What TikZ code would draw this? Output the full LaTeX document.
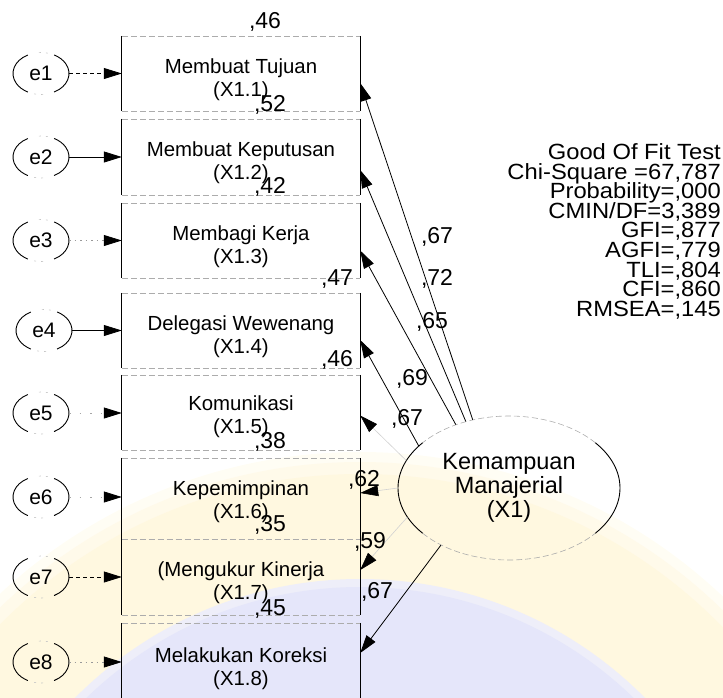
\documentclass[tikz,border=0pt]{standalone}
\usepackage{fontspec}
\setmainfont{Liberation Sans}
\newfontfamily\fitfont[FakeStretch=1.08]{Liberation Sans}
\usetikzlibrary{shapes.geometric,arrows.meta,calc}

% watermark tints
\definecolor{wmyellow}{RGB}{255,248,224}
\definecolor{wmyellowB}{RGB}{255,250,234}
\definecolor{wmyellowC}{RGB}{255,253,244}
\definecolor{wmblue}{RGB}{229,230,250}
\definecolor{wmblueB}{RGB}{238,238,249}

\tikzset{
  indicator/.style={rectangle, minimum width=238pt, minimum height=#1, inner sep=0pt},
  boxtext/.style={align=center, inner sep=0pt, font=\fontsize{20.4}{23}\selectfont},
  errvar/.style={ellipse, minimum width=56pt, minimum height=42pt, inner sep=0pt,
                 font=\fontsize{21}{21}\selectfont},
  latent/.style={ellipse, minimum width=222pt, minimum height=144pt, inner sep=0pt,
                 align=center, font=\fontsize{23.5}{24}\selectfont},
  regarrow/.style={line width=0.8pt, -{Triangle[length=18pt,width=11pt]}},
  faintarrow/.style={line width=0.6pt, draw=gray!35, -{Triangle[length=18pt,width=11pt,black]}},
  solidline/.style={},
  dashline/.style={dash pattern=on 4pt off 3pt},
  dotline/.style={draw=gray!80, dash pattern=on 1.5pt off 4pt},
  sparseline/.style={draw=gray!70, dash pattern=on 1.5pt off 9pt},
  side/.style={line width=0.9pt},
  rim/.style={line width=0.6pt, draw=gray!65, dash pattern=on 6pt off 3pt},
  faintrim/.style={line width=0.6pt, draw=gray!45, dash pattern=on 2pt off 5pt},
  coef/.style={inner sep=0pt, font=\fontsize{23}{23}\selectfont},
  fitline/.style={inner sep=0pt, anchor=base east, font=\fitfont\fontsize{22}{22}\selectfont}
}

\begin{document}
\begin{tikzpicture}[x=1pt,y=1pt]
\useasboundingbox (0,0) rectangle (723,-697);
\clip (0,0) rectangle (723,-697);

% faint emblem in the background
\fill[wmyellowC] (360,-980) circle[radius=528];
\fill[wmyellowB] (360,-980) circle[radius=518];
\fill[wmyellow]  (360,-980) circle[radius=506];
\fill[wmblueB]   (360,-980) circle[radius=401];
\fill[wmblue]    (360,-980) circle[radius=393];

% observed indicators
\node[indicator=75pt] (b1) at (241,-73.5) {};
\node[indicator=76pt] (b2) at (241,-157)  {};
\node[indicator=75pt] (b3) at (241,-240.5) {};
\node[indicator=75pt] (b4) at (241,-330.5) {};
\node[indicator=75pt] (b5) at (241,-412.5) {};
\node[indicator=81pt] (b6) at (241,-498.5) {};
\node[indicator=76pt] (b7) at (241,-577)  {};
\node[indicator=80pt] (b8) at (241,-663)  {};

\foreach \b in {b1,b2,b3,b4,b5,b6,b7,b8}{
  \draw[side] (\b.north west) -- (\b.south west);
  \draw[side] (\b.north east) -- (\b.south east);
  \draw[rim]  (\b.north west) -- (\b.north east);
  \draw[rim]  (\b.south west) -- (\b.south east);
}

\node[boxtext] (t1) at ([yshift=-6pt]b1.center) {Membuat Tujuan\\(X1.1)};
\node[boxtext] (t2) at ([yshift=-6pt]b2.center) {Membuat Keputusan\\(X1.2)};
\node[boxtext] (t3) at ([yshift=-6pt]b3.center) {Membagi Kerja\\(X1.3)};
\node[boxtext] (t4) at ([yshift=-6pt]b4.center) {Delegasi Wewenang\\(X1.4)};
\node[boxtext] (t5) at ([yshift=-4pt]b5.center) {Komunikasi\\(X1.5)};
\node[boxtext] (t6) at ([yshift=-3pt]b6.center) {Kepemimpinan\\(X1.6)};
\node[boxtext] (t7) at ([yshift=-6pt]b7.center) {(Mengukur Kinerja\\(X1.7)};
\node[boxtext] (t8) at ([yshift=-6pt]b8.center) {Melakukan Koreksi\\(X1.8)};

% error terms
\node[errvar] (e1) at (41,-73.5)  {e1};
\node[errvar] (e2) at (41,-157)   {e2};
\node[errvar] (e3) at (41,-240.5) {e3};
\node[errvar] (e4) at (44,-330.5) {e4};
\node[errvar] (e5) at (41,-413)   {e5};
\node[errvar] (e6) at (41,-497)   {e6};
\node[errvar] (e7) at (41,-577)   {e7};
\node[errvar] (e8) at (41,-662)   {e8};

\foreach \e/\b/\ls in {e1/b1/dashline,e2/b2/solidline,e3/b3/dotline,e4/b4/solidline,
                       e5/b5/sparseline,e6/b6/sparseline,e7/b7/dashline,e8/b8/dotline}{
  \draw[side] ($(\e.center)+(118:28pt and 21pt)$)
      arc[start angle=118, end angle=242, x radius=28pt, y radius=21pt];
  \draw[side] ($(\e.center)+(-62:28pt and 21pt)$)
      arc[start angle=-62, end angle=62, x radius=28pt, y radius=21pt];
  \draw[faintrim] ($(\e.center)+(76:28pt and 21pt)$)
      arc[start angle=76, end angle=104, x radius=28pt, y radius=21pt];
  \draw[faintrim] ($(\e.center)+(256:28pt and 21pt)$)
      arc[start angle=256, end angle=284, x radius=28pt, y radius=21pt];
  \draw[line width=0.8pt, \ls, -{Triangle[length=18pt,width=11pt,black]}]
      (\e.east) -- (\e.east -| \b.west);
}

% latent construct
\node[latent] (lat) at (509,-488) {Kemampuan\\Manajerial\\(X1)};
\draw[side] ($(lat.center)+(141:111pt and 72pt)$)
    arc[start angle=141, end angle=219, x radius=111pt, y radius=72pt];
\draw[side] ($(lat.center)+(-39:111pt and 72pt)$)
    arc[start angle=-39, end angle=39, x radius=111pt, y radius=72pt];
\draw[rim] ($(lat.center)+(39:111pt and 72pt)$)
    arc[start angle=39, end angle=141, x radius=111pt, y radius=72pt];
\draw[rim] ($(lat.center)+(219:111pt and 72pt)$)
    arc[start angle=219, end angle=321, x radius=111pt, y radius=72pt];

% factor loadings
\draw[regarrow]   (lat.118) -- ([yshift=-9.5pt]b1.east);
\draw[regarrow]   (lat.123) -- ([yshift=-13pt]b2.east);
\draw[regarrow]   (lat.130) -- ([yshift=-10pt]b3.east);
\draw[regarrow]   (lat.155) -- ([yshift=-9.5pt]b4.east);
\draw[faintarrow] (lat.165) -- ([yshift=-3pt]b5.east);
\draw[faintarrow] (lat.180) -- ([yshift=5.5pt]b6.east);
\draw[faintarrow] (lat.196) -- ([yshift=7pt]b7.east);
\draw[regarrow]   (lat.220) -- ([yshift=10pt]b8.east);

% squared multiple correlations
\node[coef] (s1) at (265,-21.5)  {,46};
\node[coef] (s2) at (270,-105)   {,52};
\node[coef] (s3) at (270,-187)   {,42};
\node[coef] (s4) at (337,-279.5) {,47};
\node[coef] (s5) at (337,-359.5) {,46};
\node[coef] (s6) at (270,-442)   {,38};
\node[coef] (s7) at (270,-525)   {,35};
\node[coef] (s8) at (270,-609)   {,45};

% standardized loadings
\node[coef] (l1) at (437,-236.5) {,67};
\node[coef] (l2) at (437,-278.5) {,72};
\node[coef] (l3) at (432,-321.5) {,65};
\node[coef] (l4) at (412,-378.5) {,69};
\node[coef] (l5) at (407,-418.5) {,67};
\node[coef] (l6) at (364,-479.5) {,62};
\node[coef] (l7) at (370,-541.5) {,59};
\node[coef] (l8) at (377,-591.5) {,67};

% fit indices
\node[fitline] (g1) at (721,-159.5) {Good Of Fit Test};
\node[fitline] (g2) at (721,-179.1) {Chi-Square =67,787};
\node[fitline] (g3) at (721,-198.7) {Probability=,000};
\node[fitline] (g4) at (721,-218.3) {CMIN/DF=3,389};
\node[fitline] (g5) at (721,-237.9) {GFI=,877};
\node[fitline] (g6) at (721,-257.5) {AGFI=,779};
\node[fitline] (g7) at (721,-277.1) {TLI=,804};
\node[fitline] (g8) at (721,-296.7) {CFI=,860};
\node[fitline] (g9) at (721,-316.3) {RMSEA=,145};
\end{tikzpicture}
\end{document}
